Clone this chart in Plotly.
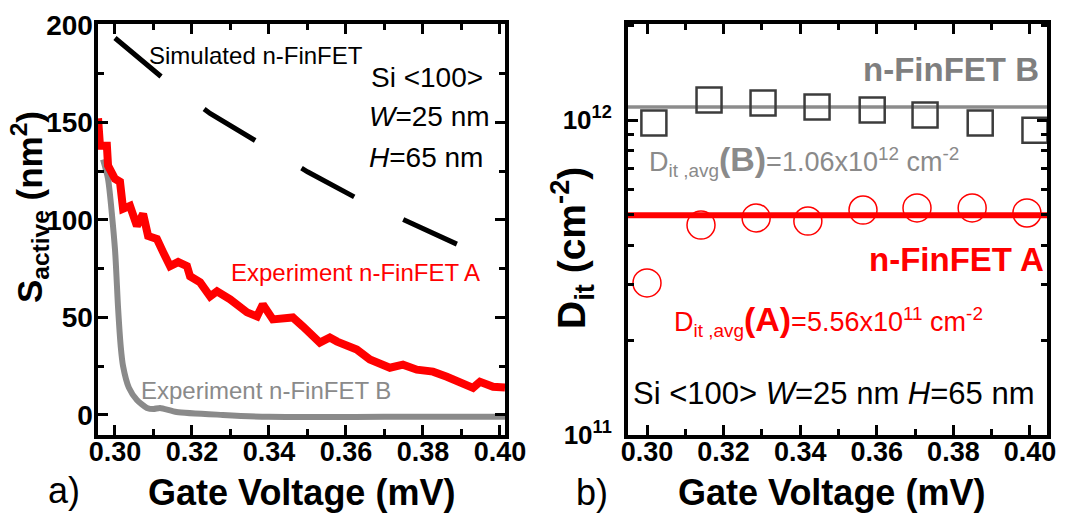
import plotly.graph_objects as go
from plotly.subplots import make_subplots

# ---------------- data (left panel) ----------------
sim_x = [0.300, 0.3125, 0.3247, 0.3384, 0.350, 0.3631, 0.3753, 0.3888]
sim_y = [193.3, 172.7, 154.6, 138.1, 124.7, 110.8, 99.5, 87.6]

expA_x = [0.2956, 0.2961, 0.2979, 0.2982, 0.3000, 0.3013, 0.3021, 0.3039, 0.3057, 0.3073,
          0.3086, 0.3109, 0.3125, 0.3143, 0.3164, 0.3187, 0.3195, 0.3221, 0.3247, 0.3265,
          0.3299, 0.3343, 0.3369, 0.3384, 0.3410, 0.3454, 0.3462, 0.3488, 0.3532, 0.3558,
          0.3577, 0.3628, 0.3662, 0.3714, 0.3748, 0.3784, 0.3826, 0.3862, 0.3914, 0.3930,
          0.3948, 0.3982, 0.4013]
expA_y = [152.1, 138.1, 138.1, 127.8, 121.1, 119.6, 105.7, 107.2, 96.9, 103.1,
          91.8, 90.2, 83.5, 76.3, 78.4, 76.3, 71.1, 68.0, 60.8, 63.4,
          59.3, 52.6, 50.5, 56.7, 49.0, 49.0, 50.0, 45.4, 37.1, 39.7,
          37.6, 33.5, 28.4, 24.2, 25.8, 23.2, 22.2, 19.6, 15.5, 13.9,
          17.0, 14.4, 14.0]

expB_x = [0.2969, 0.2982, 0.3000, 0.3008, 0.3015, 0.3021, 0.3036, 0.3057, 0.3083, 0.3100,
          0.3117, 0.3160, 0.3280, 0.3400, 0.3700, 0.4013]
expB_y = [131.0, 121.0, 85.0, 55.0, 35.0, 25.0, 14.0, 7.7, 3.6, 3.0,
          3.6, 1.5, 0.0, -1.0, -1.0, -1.0]

# ---------------- data (right panel) ----------------
sq_x = [0.3018, 0.3162, 0.3303, 0.3444, 0.3588, 0.3726, 0.3870, 0.4013]
sq_y = [9.78e11, 1.157e12, 1.132e12, 1.10e12, 1.076e12, 1.037e12, 9.78e11, 9.29e11]
ci_x = [0.3000, 0.3141, 0.3285, 0.3420, 0.3564, 0.3705, 0.3849, 0.3992]
ci_y = [3.04e11, 4.64e11, 4.89e11, 4.78e11, 5.18e11, 5.26e11, 5.26e11, 5.07e11]
avgB = 1.10e12
avgA = 4.99e11

x_ticks = [0.30, 0.32, 0.34, 0.36, 0.38, 0.40]
y_ticks_left = [0, 50, 100, 150, 200]
y_ticks_right = [1e11, 1e12]
y_ticktext_right = ["10<sup>11</sup>", "10<sup>12</sup>"]
minor_log = [2e11, 3e11, 4e11, 5e11, 6e11, 7e11, 8e11, 9e11, 2e12]

FONT = "Liberation Sans Narrow, Arial Narrow, Liberation Sans, Arial, sans-serif"
OFF = 8                      # page body margin of the browser
W, H = 1066 - OFF, 519 - OFF
TOP, BOT = 24 - OFF, 435 - OFF

fig = make_subplots(rows=1, cols=2)

fig.add_trace(go.Scatter(x=sim_x, y=sim_y, mode="lines",
                         line=dict(color="black", width=5, dash="60px,54px")), 1, 1)
fig.add_trace(go.Scatter(x=expB_x, y=expB_y, mode="lines",
                         line=dict(color="#8a8a8a", width=6, shape="spline", smoothing=0.6)), 1, 1)
fig.add_trace(go.Scatter(x=expA_x, y=expA_y, mode="lines",
                         line=dict(color="#ff0000", width=8)), 1, 1)

xr2 = [0.29504, 0.40444]
fig.add_trace(go.Scatter(x=xr2, y=[avgB, avgB], mode="lines",
                         line=dict(color="#8c8c8c", width=3.5)), 1, 2)
fig.add_trace(go.Scatter(x=xr2, y=[avgA, avgA], mode="lines",
                         line=dict(color="#ff0000", width=6)), 1, 2)
fig.add_trace(go.Scatter(x=sq_x, y=sq_y, mode="markers",
                         marker=dict(symbol="square-open", size=25, color="#3c3c3c",
                                     line=dict(width=2.5, color="#3c3c3c"))), 1, 2)
fig.add_trace(go.Scatter(x=ci_x, y=ci_y, mode="markers",
                         marker=dict(symbol="circle-open", size=28, color="#ff0000",
                                     line=dict(width=1.5, color="#ff0000"))), 1, 2)

axis_common = dict(showline=True, linewidth=4, linecolor="black", mirror="ticks",
                   ticks="inside", ticklen=10, tickwidth=3, tickcolor="black",
                   showgrid=False, zeroline=False, automargin=False)

fig.update_xaxes(**axis_common, tickvals=x_ticks, tickformat=".2f", ticklabelstandoff=-10,
                 minor=dict(ticks="inside", ticklen=6, tickwidth=3, dtick=0.01, tick0=0.30,
                            tickcolor="black"),
                 tickfont=dict(family=FONT, size=27, color="black", weight="bold"))
fig.update_xaxes(domain=[(97.5 - OFF) / W, (505 - OFF) / W], range=[0.29546, 0.4013], row=1, col=1)
fig.update_xaxes(domain=[(628 - OFF) / W, (1047 - OFF) / W], range=xr2, row=1, col=2)

fig.update_yaxes(**axis_common, row=1, col=1, range=[-10.3, 200.5], tickvals=y_ticks_left,
                 ticklabelstandoff=-5,
                 minor=dict(ticks="inside", ticklen=6, tickwidth=3, dtick=25, tick0=0,
                            tickcolor="black"),
                 tickfont=dict(family=FONT, size=28, color="black", weight="bold"))
fig.update_yaxes(**axis_common, row=1, col=2, type="log", range=[11, 12.305],
                 tickvals=y_ticks_right, ticktext=y_ticktext_right, ticklabelstandoff=7,
                 minor=dict(ticks="inside", ticklen=6, tickwidth=3, tickvals=minor_log,
                            tickcolor="black"),
                 tickfont=dict(family=FONT, size=26, color="black", weight="bold"))


def px(x):
    return (x - OFF) / W


def py(y):
    return (BOT - (y - OFF)) / (BOT - TOP)


def ann(text, x, y, size, color="black", xanchor="center", angle=0, bold=False):
    fig.add_annotation(text=text, x=px(x), y=py(y), xref="paper", yref="paper",
                       showarrow=False, xanchor=xanchor, yanchor="middle", textangle=angle,
                       borderpad=0,
                       font=dict(family=FONT, size=size, color=color,
                                 weight="bold" if bold else "normal"))


# left panel texts
ann("Simulated n-FinFET", 148, 55, 24, xanchor="left")
ann("Si &lt;100&gt;", 370, 78, 28, xanchor="left")
ann("<i>W</i>=25 nm", 368, 117, 28, xanchor="left")
ann("<i>H</i>=65 nm", 368, 157, 28, xanchor="left")
ann("Experiment n-FinFET A", 230, 272, 24, color="#ff0000", xanchor="left")
ann("Experiment n-FinFET B", 140, 390, 24, color="#8a8a8a", xanchor="left")
ann("Gate Voltage (mV)", 301, 492, 36, bold=True)
ann("a)", 64, 490, 36)
ann("S<sub>active</sub> (nm<sup>2</sup>)", 29, 207, 35, angle=-90, bold=True)

# right panel texts
ann("n-FinFET B", 1040, 70, 33, color="#7f7f7f", xanchor="right", bold=True)
ann("D<sub>it ,avg</sub><span style='font-size:34px'><b>(B)</b></span>=1.06x10<sup>12</sup> cm<sup>-2</sup>",
    648, 160, 27, color="#8a8a8a", xanchor="left")
ann("n-FinFET A", 1045, 260, 33, color="#ff0000", xanchor="right", bold=True)
ann("D<sub>it ,avg</sub><span style='font-size:34px'><b>(A)</b></span>=5.56x10<sup>11</sup> cm<sup>-2</sup>",
    673, 320, 27, color="#ff0000", xanchor="left")
ann("Si &lt;100&gt; <i>W</i>=25 nm <i>H</i>=65 nm", 632, 393, 31, xanchor="left")
ann("Gate Voltage (mV)", 831, 492, 36, bold=True)
ann("b)", 592, 492, 36)
ann("D<sub>it</sub> (cm<sup>-2</sup>)", 572, 248, 39, angle=-90, bold=True)

fig.update_layout(width=W, height=H, showlegend=False,
                  margin=dict(l=0, r=0, t=TOP, b=H - BOT),
                  paper_bgcolor="white", plot_bgcolor="white",
                  font=dict(family=FONT, color="black"))

fig.write_html("out.html")
